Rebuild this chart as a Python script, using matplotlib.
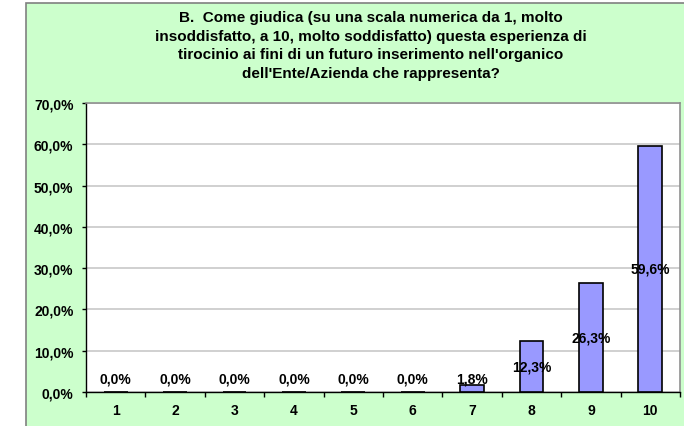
import matplotlib
matplotlib.use("Agg")
import matplotlib.pyplot as plt
import numpy as np
from matplotlib.patches import Rectangle
from matplotlib.ticker import FuncFormatter

plt.rcParams["font.family"] = ["Liberation Sans", "DejaVu Sans"]
plt.rcParams["font.weight"] = "bold"

categories = ["1", "2", "3", "4", "5", "6", "7", "8", "9", "10"]
percentages = [0.0, 0.0, 0.0, 0.0, 0.0, 0.0, 1.8, 12.3, 26.3, 59.6]
title = ("B.  Come giudica (su una scala numerica da 1, molto\n"
         "insoddisfatto, a 10, molto soddisfatto) questa esperienza di\n"
         "tirocinio ai fini di un futuro inserimento nell'organico\n"
         "dell'Ente/Azienda che rappresenta?")

W, H = 684, 427
fig = plt.figure(figsize=(W / 100, H / 100), dpi=100)
fig.patch.set_facecolor("white")

# green chart area with grey frame
fig.patches.append(Rectangle((26 / W, -0.05), 1.0, 1 - 4 / H + 0.05, transform=fig.transFigure,
                             facecolor="#CCFFCC", edgecolor="#808080", linewidth=1.2, zorder=-10))

ax = fig.add_axes([86 / W, 1 - 393 / H, (680 - 86) / W, (393 - 104) / H])
ax.set_zorder(1)
ax.set_facecolor("white")

x = np.arange(len(categories))
ax.bar(x, percentages, width=0.4, color="#9999FF", edgecolor="black", linewidth=1.2, zorder=3)

for xi, v in zip(x, percentages):
    label = f"{v:.1f}%".replace(".", ",")
    ax.text(xi, max(v / 2, 3.15), label, ha="center", va="center", fontsize=10,
            fontweight="bold", zorder=4)

ax.set_xlim(-0.5, len(categories) - 0.5)
ax.set_ylim(0, 70)
ax.set_yticks(np.arange(0, 71, 10))
ax.yaxis.set_major_formatter(FuncFormatter(lambda v, p: f"{v:.1f}%".replace(".", ",")))
ax.set_xticks(x)
ax.set_xticklabels(categories)
ax.set_xticks(np.arange(-0.5, len(categories), 1), minor=True)

ax.tick_params(axis="x", which="major", length=0, pad=8, labelsize=10)
ax.tick_params(axis="x", which="minor", length=3.5, width=1, direction="out", color="black")
ax.tick_params(axis="y", length=3, width=1, direction="out", pad=6, labelsize=10)

ax.grid(axis="y", color="#C8C8C8", linewidth=1.2, zorder=0)
ax.set_axisbelow(True)

for side in ("top", "right"):
    ax.spines[side].set_color("#909090")
    ax.spines[side].set_linewidth(1.2)
for side in ("left", "bottom"):
    ax.spines[side].set_color("black")
    ax.spines[side].set_linewidth(1.0)

fig.text(371 / W, 1 - 46 / H, title, ha="center", va="center", multialignment="center",
         fontsize=11, fontweight="bold", linespacing=1.43)

fig.savefig("out.png", dpi=100, facecolor=fig.get_facecolor())
